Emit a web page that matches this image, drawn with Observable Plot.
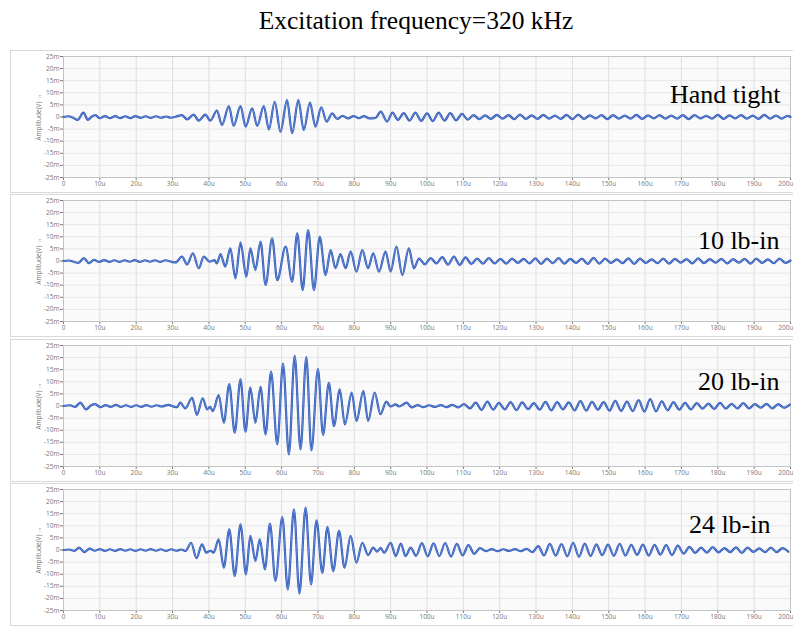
<!DOCTYPE html>
<html>
<head>
<meta charset="utf-8">
<script src="https://cdn.jsdelivr.net/npm/d3@7"></script>
<script src="https://cdn.jsdelivr.net/npm/@observablehq/plot@0.6"></script>
<style>
  body { margin: 0; width: 793px; height: 627px; position: relative; overflow: hidden; background: #fff; }
  #title { position: absolute; left: 0; top: 6px; width: 832px; text-align: center;
           font-family: "Liberation Serif", "Times New Roman", serif; font-size: 25.5px; line-height: 30px; color: #000; }
  .panel { position: absolute; left: 0; width: 793px; }
  .panel-frame { position: absolute; left: 10px; top: 2px; width: 790px; height: 141px;
                 border: 1px solid #d9d9d9; pointer-events: none; }
</style>
</head>
<body>
<div id="title">Excitation frequency=320 kHz</div>
<div id="panels"></div>
<script>
// Axis ticks and their labels (time in microseconds, amplitude in millivolts)
const xTicks = [0, 10, 20, 30, 40, 50, 60, 70, 80, 90, 100, 110, 120, 130, 140, 150, 160, 170, 180, 190, 200];
const xTickLabels = ["0", "10u", "20u", "30u", "40u", "50u", "60u", "70u", "80u", "90u", "100u", "110u", "120u",
  "130u", "140u", "150u", "160u", "170u", "180u", "190u", "200u"];
const yTicks = [-25, -20, -15, -10, -5, 0, 5, 10, 15, 20, 25];
const yTickLabels = ["-25m", "-20m", "-15m", "-10m", "-5m", "0", "5m", "10m", "15m", "20m", "25m"];

// Torque condition of each recorded signal
const conditions = ["Hand tight", "10 lb-in", "20 lb-in", "24 lb-in"];

// Received waveforms: successive peaks and troughs, [time (us), amplitude (mV)]
const handTight = [
  [0,0],[1.4,0.3],[2.6,-0.3],[3.9,-1.2],[5.5,1.8],[6.7,-1.2],[7.8,0.2],[8.8,0.8],[10.0,-0.5],[11.4,0.4],
  [12.8,-0.5],[14.2,0.4],[15.6,-0.5],[17.0,0.3],[18.4,-0.5],[19.8,0.4],[21.2,-0.4],[22.6,0.3],[24.0,-0.4],
  [25.4,0.3],[26.8,-0.3],[28.2,0.2],[29.6,-0.3],[31.0,0.2],[32.6,0.8],[34.0,-1.0],[35.8,1.0],[37.2,-1.5],
  [39.0,1.0],[40.4,-1.5],[42.2,2.6],[43.6,-3.3],[45.5,4.5],[46.8,-3.7],[48.7,4.5],[50.1,-4.0],[51.9,3.6],
  [53.3,-3.7],[55.1,4.5],[56.5,-5.1],[58.1,6.3],[59.7,-6.1],[61.5,7.0],[62.9,-6.7],[64.6,7.0],[66.1,-5.4],
  [67.8,5.9],[69.3,-4.0],[70.9,4.0],[72.4,-1.9],[73.9,1.5],[75.3,-0.8],[76.8,0.5],[78.3,-0.6],[79.8,0.4],
  [81.3,-0.5],[82.6,0.4],[84.2,-0.6],[85.8,-0.4],[87.3,2.2],[89.0,-1.9],[90.5,1.8],[92.0,-1.2],[93.6,1.6],
  [95.2,-1.5],[96.8,1.8],[98.4,-1.6],[100.0,1.5],[101.6,-1.7],[103.2,1.8],[104.8,-1.5],[106.4,1.6],[108.0,-1.4],
  [109.6,1.3],[111.2,-1.1],[112.8,0.8],[114.4,-0.9],[116.0,0.7],[117.6,-0.8],[119.2,0.9],[120.8,-0.7],[122.4,0.8],
  [124.0,-0.9],[125.6,1.0],[127.2,-0.8],[128.8,0.7],[130.4,-0.8],[132.0,0.9],[133.6,-0.7],[135.2,0.6],[136.8,-0.8],
  [138.4,0.9],[140.0,-0.9],[141.6,1.0],[143.2,-0.8],[144.8,0.7],[146.4,-0.6],[148.0,0.8],[149.6,-0.9],[151.2,0.8],
  [152.8,-0.7],[154.4,0.6],[156.0,-0.7],[157.6,0.9],[159.2,-0.8],[160.8,0.7],[162.4,-0.6],[164.0,0.8],[165.6,-0.7],
  [167.2,0.6],[168.8,-0.7],[170.4,0.8],[172.0,-0.9],[173.6,0.8],[175.2,-0.6],[176.8,0.5],[178.4,-0.7],[180.0,0.9],
  [181.6,-0.8],[183.2,0.7],[184.8,-0.6],[186.4,0.8],[188.0,-0.7],[189.6,0.6],[191.2,-0.8],[192.8,0.9],[194.4,-0.7],
  [196.0,0.6],[197.6,-0.7],[199.2,0.5],[200,0]
];

const tenLbIn = [
  [0,0],[1.5,0.2],[2.8,-0.3],[4.1,-0.8],[5.6,1.2],[7.0,-0.9],[8.4,0.5],[9.8,-0.4],[11.2,0.4],[12.6,-0.4],
  [14.0,0.3],[15.4,-0.4],[16.8,0.3],[18.2,-0.3],[19.6,0.4],[21.0,-0.4],[22.4,0.3],[23.8,-0.3],[25.2,0.3],
  [26.6,-0.4],[28.0,0.3],[29.4,-0.2],[30.8,-0.6],[32.6,1.8],[34.0,-1.4],[35.6,3.2],[37.2,-3.0],[38.6,1.8],
  [40.2,-0.3],[41.5,0.4],[42.2,-1.0],[43.2,2.8],[44.5,-2.3],[45.9,5.2],[47.3,-7.2],[48.7,7.7],[50.3,-6.5],
  [51.4,5.2],[52.8,-3.7],[54.2,8.0],[55.6,-9.9],[57.4,9.4],[58.8,-7.9],[61.1,5.9],[62.9,-8.5],[64.3,11.4],
  [65.8,-12.0],[67.3,12.8],[68.9,-12.0],[70.5,10.0],[72.1,-5.8],[73.5,4.5],[74.8,-3.0],[76.2,2.8],[77.6,-3.0],
  [79.0,3.9],[80.6,-4.4],[82.2,4.5],[83.8,-3.0],[85.2,3.2],[86.8,-4.4],[88.6,3.9],[90.0,-4.4],[91.6,5.9],
  [93.2,-5.8],[95.0,5.2],[96.4,-3.0],[97.8,1.0],[99.4,-1.4],[101.0,1.2],[102.6,-1.0],[104.2,1.6],[105.8,-1.5],
  [107.4,1.8],[109.0,-1.6],[110.6,1.5],[112.2,-1.2],[113.8,1.0],[115.4,-1.1],[117.0,1.2],[118.6,-1.0],[120.2,0.9],
  [121.8,-1.1],[123.4,1.0],[125.0,-0.8],[126.6,0.9],[128.2,-1.0],[129.8,1.1],[131.4,-1.2],[133.0,1.0],[134.6,-0.9],
  [136.2,1.2],[137.8,-1.1],[139.4,0.9],[141.0,-0.8],[142.6,1.0],[144.2,-1.2],[145.8,1.3],[147.4,-1.1],[149.0,1.0],
  [150.6,-0.8],[152.2,0.7],[153.8,-0.9],[155.4,1.1],[157.0,-1.2],[158.6,1.0],[160.2,-0.8],[161.8,0.7],[163.4,-0.9],
  [165.0,1.0],[166.6,-1.1],[168.2,0.9],[169.8,-0.7],[171.4,0.8],[173.0,-1.0],[174.6,1.1],[176.2,-0.9],[177.8,0.8],
  [179.4,-0.7],[181.0,0.9],[182.6,-1.0],[184.2,0.8],[185.8,-0.7],[187.4,0.9],[189.0,-1.1],[190.6,1.0],[192.2,-0.8],
  [193.8,0.7],[195.4,-0.9],[197.0,1.0],[198.6,-0.8],[200,0.2]
];

const twentyLbIn = [
  [0,0],[1.8,0.3],[3.2,-0.4],[4.6,1.4],[6.2,-1.4],[7.6,0.3],[8.7,0.8],[10.2,-0.5],[11.6,0.4],[13.0,-0.4],
  [14.4,0.5],[15.8,-0.4],[17.2,0.3],[18.6,-0.4],[20.0,0.3],[21.4,-0.4],[22.8,0.4],[24.2,-0.3],[25.6,0.3],
  [27.0,-0.2],[28.9,0.5],[30.2,-0.2],[31.2,-0.5],[32.1,1.4],[33.5,-1.0],[35.4,3.4],[36.7,-3.7],[38.3,3.2],
  [39.5,-1.4],[40.3,-0.4],[41.1,-2.1],[42.7,4.5],[44.1,-6.9],[45.6,9.0],[47.1,-11.0],[48.7,11.0],[50.05,-10.6],
  [51.4,7.6],[52.8,-6.9],[54.2,7.9],[55.6,-11.7],[57.1,14.2],[58.8,-15.8],[60.4,17.5],[62.0,-20.0],[63.6,20.7],
  [65.2,-17.9],[66.8,20.2],[68.2,-18.3],[70.0,15.2],[71.4,-12.0],[73.0,9.6],[74.4,-8.3],[76.0,6.9],[77.4,-7.6],
  [79.3,5.5],[80.6,-6.2],[82.5,6.2],[83.8,-6.2],[85.6,5.5],[87.2,-3.4],[88.8,1.8],[90.0,-0.2],[91.4,0.7],
  [92.3,-0.2],[94.4,1.4],[95.8,-0.6],[97.4,0.4],[99.0,-0.5],[100.6,0.3],[102.2,-0.4],[103.8,0.4],[105.4,-0.5],
  [107.0,0.5],[108.6,-0.6],[110.2,0.8],[111.8,-1.0],[113.4,1.4],[115.0,-1.6],[116.6,1.8],[118.2,-1.5],[119.8,1.3],
  [121.4,-1.4],[123.0,1.6],[124.6,-1.7],[126.2,1.5],[127.8,-1.3],[129.4,1.2],[131.0,-1.5],[132.6,1.7],[134.2,-1.8],
  [135.8,1.6],[137.4,-1.4],[139.0,1.5],[140.6,-1.8],[142.2,2.0],[143.8,-1.9],[145.4,1.7],[147.0,-1.5],[148.6,1.6],
  [150.2,-1.9],[151.8,2.1],[153.4,-2.0],[155.0,1.8],[156.6,-2.1],[158.2,2.4],[159.8,-2.3],[161.4,2.8],[163.0,-2.2],
  [164.6,1.9],[166.2,-1.8],[167.8,1.6],[169.4,-1.5],[171.0,1.3],[172.6,-1.4],[174.2,1.2],[175.8,-1.1],[177.4,1.0],
  [179.0,-1.2],[180.6,1.3],[182.2,-1.1],[183.8,0.9],[185.4,-1.0],[187.0,1.2],[188.6,-1.0],[190.2,0.8],[191.8,-0.7],
  [193.4,0.9],[195.0,-1.0],[196.6,0.8],[198.2,-0.7],[199.8,0.6]
];

const twentyFourLbIn = [
  [0,0],[1.6,0.2],[3.0,-0.4],[4.3,1.0],[5.8,-0.9],[7.2,0.6],[8.6,-0.3],[10.0,0.4],[11.4,-0.4],[12.8,0.3],
  [14.2,-0.4],[15.6,0.4],[17.0,-0.3],[18.4,0.3],[19.8,-0.4],[21.2,0.3],[22.6,-0.3],[24.0,0.4],[25.4,-0.3],
  [26.8,0.3],[28.2,-0.4],[29.6,0.3],[31.0,-0.3],[32.4,0.2],[33.6,-0.4],[35.1,3.0],[36.6,-3.4],[38.1,2.3],
  [39.3,-1.1],[40.4,-0.3],[41.3,-1.1],[42.7,4.4],[44.1,-7.3],[45.6,8.5],[47.1,-10.7],[48.7,10.6],[50.2,-10.1],
  [51.4,5.8],[52.8,-4.5],[54.0,4.4],[55.4,-8.0],[56.8,10.9],[58.3,-12.8],[60.2,13.6],[61.7,-16.3],[63.4,16.8],
  [64.9,-18.0],[66.6,17.5],[68.1,-14.2],[69.6,12.3],[71.2,-9.4],[72.6,9.5],[74.2,-8.7],[75.8,7.9],[77.3,-7.3],
  [79.0,5.8],[80.6,-5.2],[82.2,3.0],[83.8,-2.1],[85.2,1.0],[86.3,-0.7],[87.2,0.9],[88.2,-1.1],[90.0,3.0],
  [91.4,-2.5],[92.8,2.6],[94.1,-2.5],[95.5,1.0],[97.0,-2.4],[98.6,2.8],[100.2,-2.6],[101.8,2.7],[103.4,-2.5],
  [105.0,2.9],[106.6,-2.7],[108.2,2.5],[109.8,-2.2],[111.4,2.0],[113.0,-1.6],[114.6,0.8],[116.2,-0.5],[117.8,0.4],
  [119.4,-0.5],[121.0,0.3],[122.6,-0.4],[124.2,0.4],[125.8,-0.5],[127.4,0.5],[129.0,-0.9],[130.6,1.6],[132.2,-2.2],
  [133.8,2.5],[135.4,-2.3],[137.0,2.4],[138.6,-2.6],[140.2,3.0],[141.8,-2.8],[143.4,2.6],[145.0,-2.5],[146.6,2.3],
  [148.2,-2.1],[149.8,2.2],[151.4,-2.4],[153.0,2.5],[154.6,-2.3],[156.2,2.1],[157.8,-2.0],[159.4,2.2],[161.0,-2.3],
  [162.6,2.1],[164.2,-1.9],[165.8,2.0],[167.4,-2.1],[169.0,1.8],[170.6,-1.5],[172.2,1.3],[173.8,-1.2],[175.4,1.0],
  [177.0,-1.1],[178.6,1.2],[180.2,-1.0],[181.8,0.8],[183.4,-0.9],[185.0,1.1],[186.6,-1.2],[188.2,1.0],[189.8,-0.8],
  [191.4,0.7],[193.0,-0.9],[194.6,1.0],[196.2,-0.9],[197.8,0.8],[199.4,-0.7]
];

const signals = [handTight, tenLbIn, twentyLbIn, twentyFourLbIn];

// Page layout of the four stacked panels
const panelTops = [48, 192, 337, 481];
const labelOffsets = [{dx: -10, dy: -22}, {dx: -11, dy: -20}, {dx: -11, dy: -24}, {dx: -20, dy: -25}];

const lastTick = xTicks[xTicks.length - 1];
// the final tick label sits against the right edge, so it is drawn end-anchored below
const fmtX = d => (d === lastTick ? "" : xTickLabels[xTicks.indexOf(d)]);
const fmtY = d => yTickLabels[yTicks.indexOf(d)];

const host = document.getElementById("panels");
signals.forEach((wave, i) => {
  const chart = Plot.plot({
    width: 793,
    height: 144,
    marginLeft: 63,
    marginRight: 3,
    marginTop: 8,
    marginBottom: 15,
    style: {fontFamily: "'Open Sans', sans-serif", fontSize: "6.5px", color: "#777", background: "transparent"},
    x: {domain: [0, 200], ticks: xTicks, tickFormat: fmtX, tickSize: 3, tickPadding: 1, label: null},
    y: {domain: [-25, 25], ticks: yTicks, tickFormat: fmtY, tickSize: 3, tickPadding: 1,
        label: "Amplitude(V)", labelAnchor: "center", labelOffset: 27},
    marks: [
      Plot.frame({fill: "#fafafa", stroke: null}),
      Plot.ruleX(xTicks, {stroke: "#dedede", strokeWidth: 1}),
      Plot.ruleY(yTicks, {stroke: "#e6e6e6", strokeWidth: 1}),
      Plot.frame({stroke: "#c4c4c4"}),
      Plot.line(wave, {x: d => d[0], y: d => d[1], curve: "monotone-x", stroke: "#2c55b4", strokeWidth: 2.2}),
      Plot.line(wave, {x: d => d[0], y: d => d[1], curve: "monotone-x", stroke: "#7096e3", strokeWidth: 0.8}),
      Plot.text([lastTick], {
        x: d => d, text: d => xTickLabels[xTicks.indexOf(d)], frameAnchor: "bottom", lineAnchor: "top",
        textAnchor: "end", dx: 3, dy: 4, fontSize: 6.5, fill: "#777"
      }),
      Plot.text([conditions[i]], {
        frameAnchor: "right", textAnchor: "end", dx: labelOffsets[i].dx, dy: labelOffsets[i].dy,
        fontSize: 26, fontFamily: "'Liberation Serif', 'Times New Roman', serif", fill: "#000"
      })
    ]
  });
  const panel = document.createElement("div");
  panel.className = "panel";
  panel.style.top = panelTops[i] + "px";
  panel.appendChild(chart);
  const frame = document.createElement("div");
  frame.className = "panel-frame";
  panel.appendChild(frame);
  host.appendChild(panel);
});
</script>
</body>
</html>
